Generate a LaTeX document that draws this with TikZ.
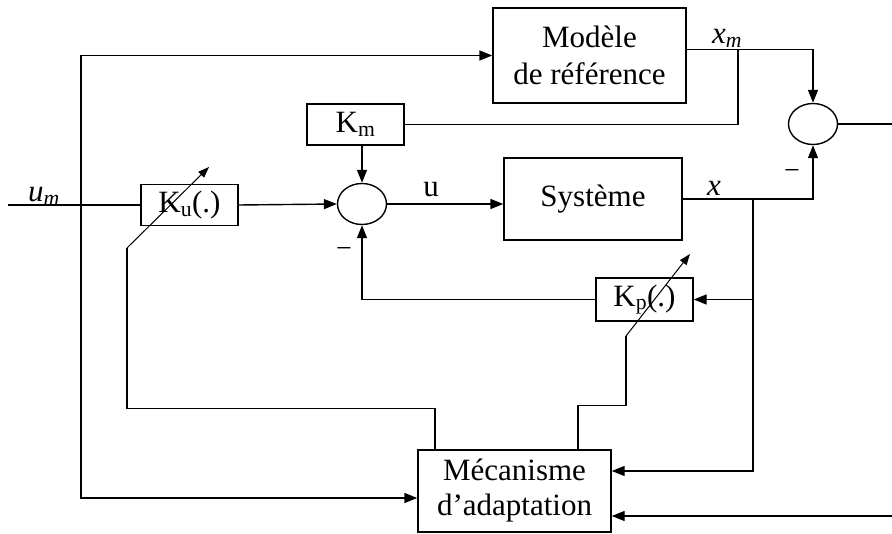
\documentclass[tikz,border=0pt]{standalone}
\usepackage{fontspec}
\setmainfont{Liberation Serif}
\usetikzlibrary{shapes,arrows.meta,positioning,calc}

\begin{document}
\begin{tikzpicture}[
  x=1pt, y=-1pt,
  >={Triangle[length=13pt,width=10pt]},
  line width=1.4pt,
  every node/.style={font=\fontsize{31}{35}\selectfont},
  block/.style={draw,rectangle,align=center,inner sep=0pt},
  sumnode/.style={draw,ellipse,minimum width=49pt,minimum height=41pt,inner sep=0pt},
  tune/.style={->,line width=1pt,>={Triangle[length=11pt,width=8pt]}},
  sign/.style={font=\fontsize{28}{28}\selectfont}
]
\useasboundingbox (0,0) rectangle (892,534);

% Blocks
\node[block,minimum width=193pt,minimum height=95pt,font=\fontsize{31}{37}\selectfont] (ref) at (589.5,55.5) {Modèle\\de référence};
\node[block,minimum width=178pt,minimum height=82pt] (sys) at (593,199) {Système};
\node[block,minimum width=97pt,minimum height=41pt] (km) at (355.5,124.5) {K\textsubscript{m}};
\node[block,minimum width=97pt,minimum height=41pt] (ku) at (189.5,205) {K\textsubscript{u}(.)};
\node[block,minimum width=97pt,minimum height=43pt] (kp) at (644.5,299.5) {K\textsubscript{p}(.)};
\node[block,minimum width=193pt,minimum height=82pt] (adapt) at (514.5,491) {Mécanisme\\d’adaptation};

% Comparators
\node[sumnode] (sum1) at (813,124) {};
\node[sumnode] (sum2) at (362,204) {};

% Free ends and branch points
\coordinate (umin) at (8,205);
\coordinate (split) at (81,205);
\coordinate (xmsplit) at (738,49.5);
\coordinate (xsplit) at (753,199);
\coordinate (eout) at (892,122);
\coordinate (ein) at (892,516);

% Signal paths
\draw (umin) -- (ku.west);
\draw[->] (split) |- (ref.west);
\draw[->] (split) |- ([yshift=-7pt]adapt.west);
\draw[->] (ku.east) -- (sum2.west);
\draw[->] (km.south -| sum2.north) -- (sum2.north);
\draw[->] ([yshift=6pt]ref.east) -| (sum1.north);
\draw (xmsplit) |- (km.east);
\draw[->] (sum2.east) -- (sum2.east -| sys.west);
\draw[->] (sys.east) -| (sum1.south);
\draw[->] (xsplit) |- (kp.east);
\draw[->] (xsplit) |- ([yshift=20pt]adapt.east);
\draw[->] (kp.west) -| (sum2.south);
\draw (sum1.east) -- (sum1.east -| eout);
\draw[->] (ein) -- (ein -| adapt.east);

% Adjustable gains
\coordinate (kutail) at (127,248);
\coordinate (kuhead) at (209,167);
\coordinate (kptail) at (626,336);
\coordinate (kphead) at (690,254);
\draw[tune] (kutail) -- (kuhead);
\draw[tune] (kptail) -- (kphead);
\draw ([xshift=-79.5pt]adapt.north) -- ++(0,-41) -| (kutail);
\draw ([xshift=63.5pt]adapt.north) -- ++(0,-44) -| (kptail);

% Labels
\node[anchor=base] (umlabel) at (44,202) {\textit{u}\textsubscript{\textit{m}}};
\node[anchor=base] (ulabel) at (431,197) {u};
\node[anchor=base] (xmlabel) at (727,44) {\textit{x}\textsubscript{\textit{m}}};
\node[anchor=base] (xlabel) at (714,196) {\textit{x}};
\node[sign] (minus1) at (792,175) {−};
\node[sign] (minus2) at (344,253) {−};

\end{tikzpicture}
\end{document}
